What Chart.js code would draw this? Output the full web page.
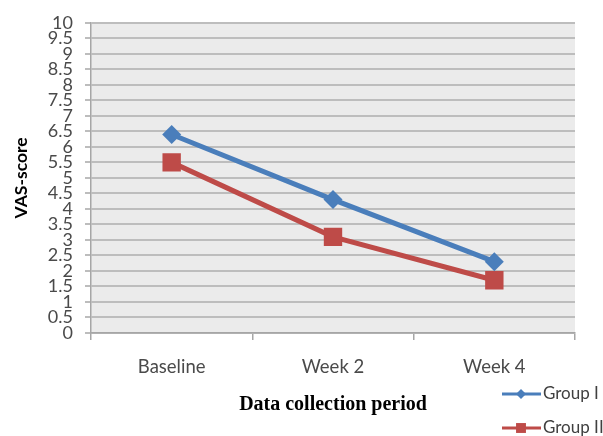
<!DOCTYPE html>
<html>
<head>
<meta charset="utf-8">
<script src="https://cdn.jsdelivr.net/npm/chart.js@4.4.1/dist/chart.umd.min.js"></script>
<style>
  html, body { margin: 0; padding: 0; background: #fff; }
  #wrap { width: 603px; height: 436px; }
</style>
</head>
<body>
<div id="wrap"><canvas id="graficoVas"></canvas></div>
<script>
const periodos = ['Baseline', 'Week 2', 'Week 4'];
const grupo1 = [6.4, 4.3, 2.3];
const grupo2 = [5.5, 3.1, 1.7];
const nomesGrupos = ['Group I', 'Group II'];

const corAzul = '#4a7ebb';
const corVermelha = '#be4b48';

// fundo cinza da area do grafico
const fundoPlot = {
  id: 'fundoPlot',
  beforeDraw(chart) {
    const { ctx, chartArea: a } = chart;
    ctx.save();
    ctx.fillStyle = '#ebebeb';
    ctx.fillRect(a.left, a.top, a.right - a.left, a.bottom - a.top);
    ctx.restore();
  }
};

// legenda vertical no canto inferior direito
const legendaLateral = {
  id: 'legendaLateral',
  afterDraw(chart) {
    const { ctx } = chart;
    const ys = [394, 428];
    chart.data.datasets.forEach((ds, i) => {
      const y = ys[i];
      ctx.save();
      ctx.strokeStyle = ds.borderColor;
      ctx.lineWidth = 3;
      ctx.beginPath();
      ctx.moveTo(502, y);
      ctx.lineTo(541, y);
      ctx.stroke();
      ctx.fillStyle = ds.pointBackgroundColor;
      ctx.strokeStyle = ds.pointBackgroundColor;
      Chart.helpers.drawPoint(ctx, {
        pointStyle: ds.pointStyle,
        radius: ds.pointStyle === 'rect' ? 7 : 5,
        borderWidth: 0,
        rotation: 0
      }, 521, y);
      ctx.fillStyle = '#404040';
      ctx.font = '17px Lato, "Open Sans", sans-serif';
      ctx.textBaseline = 'middle';
      ctx.fillText(ds.label, 543, y);
      ctx.restore();
    });
  }
};

new Chart(document.getElementById('graficoVas'), {
  type: 'line',
  data: {
    labels: periodos,
    datasets: [
      {
        label: nomesGrupos[0],
        data: grupo1,
        borderColor: corAzul,
        backgroundColor: corAzul,
        borderWidth: 5,
        pointStyle: 'rectRot',
        pointRadius: 9.5,
        pointBackgroundColor: corAzul,
        pointBorderColor: corAzul,
        pointBorderWidth: 0,
        tension: 0
      },
      {
        label: nomesGrupos[1],
        data: grupo2,
        borderColor: corVermelha,
        backgroundColor: corVermelha,
        borderWidth: 5,
        pointStyle: 'rect',
        pointRadius: 13,
        pointBackgroundColor: corVermelha,
        pointBorderColor: corVermelha,
        pointBorderWidth: 0,
        tension: 0
      }
    ]
  },
  options: {
    responsive: true,
    maintainAspectRatio: false,
    animation: false,
    layout: { padding: { top: 21, right: 28, bottom: 0, left: 0 } },
    plugins: {
      legend: { display: false },
      tooltip: { enabled: false }
    },
    scales: {
      x: {
        offset: true,
        grid: {
          offset: true,
          drawOnChartArea: false,
          drawTicks: true,
          tickLength: 7,
          color: '#a6a6a6',
          lineWidth: 1.5
        },
        border: { display: true, color: '#a6a6a6', width: 1.5 },
        ticks: {
          color: '#4a4a4a',
          padding: 16,
          font: { family: 'Lato, "Open Sans", sans-serif', size: 18.5 }
        },
        title: {
          display: true,
          text: 'Data collection period',
          color: '#000',
          padding: { top: 0, bottom: 19 },
          font: { family: '"Liberation Serif", "DejaVu Serif", serif', size: 20, weight: 'bold' }
        },
        afterFit(scale) { scale.height = 103; }
      },
      y: {
        min: 0,
        max: 10,
        grid: {
          color: '#bdbdbd',
          lineWidth: 2,
          drawTicks: true,
          tickLength: 6
        },
        border: { display: true, color: '#a6a6a6', width: 1.5 },
        ticks: {
          stepSize: 0.5,
          autoSkip: false,
          color: '#4a4a4a',
          padding: 12,
          callback: v => String(v),
          font: { family: 'Lato, "Open Sans", sans-serif', size: 18 }
        },
        title: {
          display: true,
          text: 'VAS-score',
          color: '#000',
          padding: 11,
          font: { family: 'Lato, "Open Sans", sans-serif', size: 17.5, weight: 'bold' }
        },
        afterFit(scale) { scale.width = 91; }
      }
    }
  },
  plugins: [fundoPlot, legendaLateral]
});
</script>
</body>
</html>
